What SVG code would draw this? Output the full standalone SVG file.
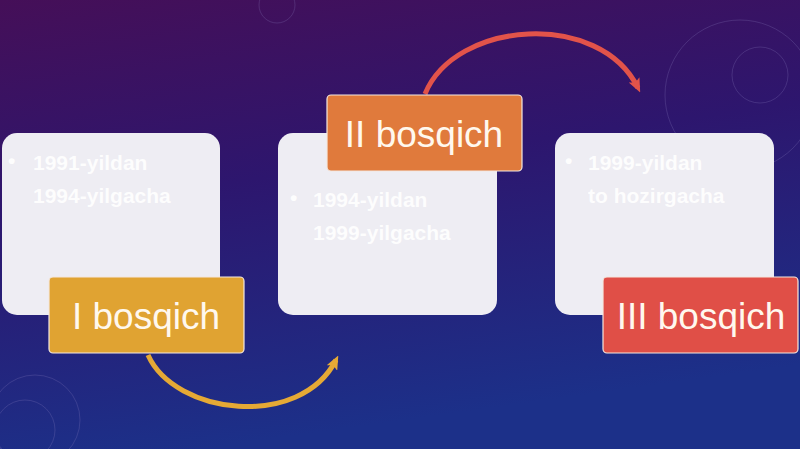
<svg xmlns="http://www.w3.org/2000/svg" width="800" height="449" viewBox="0 0 800 449">
<defs>
<linearGradient id="bg" x1="0" y1="0" x2="0.25" y2="1">
<stop offset="0" stop-color="#450f58"/>
<stop offset="0.45" stop-color="#2d166e"/>
<stop offset="1" stop-color="#1c3089"/>
</linearGradient>
<marker id="ahGold" markerWidth="14" markerHeight="12" refX="9" refY="6" orient="auto" markerUnits="userSpaceOnUse">
<path d="M0,0 L14,6 L0,12 L3,6 z" fill="#e5a935"/>
</marker>
<marker id="ahRed" markerWidth="14" markerHeight="12" refX="9" refY="6" orient="auto" markerUnits="userSpaceOnUse">
<path d="M0,0 L14,6 L0,12 L3,6 z" fill="#e2534a"/>
</marker>
</defs>
<style>
.box{fill:#eeedf3;}
.lbl{stroke:#f4e8e0;stroke-width:1.2;}
.lt{font-family:"Liberation Sans","Open Sans",sans-serif;font-size:37px;fill:#fff8ee;}
.bt{font-family:"Liberation Sans","Open Sans",sans-serif;font-size:21px;fill:#ffffff;font-weight:bold;opacity:0.9;}
.deco{fill:none;stroke:#8a7fc0;stroke-width:1;opacity:0.25;}
</style>
<rect width="800" height="449" fill="url(#bg)"/>
<g id="decor">
<circle class="deco" cx="277" cy="5" r="18"/>
<circle class="deco" cx="760" cy="75" r="28"/>
<circle class="deco" cx="740" cy="95" r="75"/>
<circle class="deco" cx="35" cy="420" r="45"/>
<circle class="deco" cx="25" cy="430" r="30"/>
</g>
<g id="connectors">
<path d="M148,355 C175,415 300,430 336,360" fill="none" stroke="#e5a935" stroke-width="5" marker-end="url(#ahGold)"/>
<path d="M425,94 C455,20 600,10 638,88" fill="none" stroke="#e2534a" stroke-width="5" marker-end="url(#ahRed)"/>
</g>
<g id="node1">
<rect class="box" x="2" y="133" width="218" height="182" rx="15"/>
<text class="bt" x="8" y="168">•</text>
<text class="bt" x="33" y="170">1991-yildan</text>
<text class="bt" x="33" y="203">1994-yilgacha</text>
</g>
<g id="node2">
<rect class="box" x="278" y="133" width="219" height="182" rx="15"/>
<text class="bt" x="290" y="205">•</text>
<text class="bt" x="313" y="207">1994-yildan</text>
<text class="bt" x="313" y="240">1999-yilgacha</text>
</g>
<g id="node3">
<rect class="box" x="555" y="133" width="219" height="182" rx="15"/>
<text class="bt" x="565" y="168">•</text>
<text class="bt" x="588" y="170">1999-yildan</text>
<text class="bt" x="588" y="203">to hozirgacha</text>
</g>
<g id="label1">
<rect class="lbl" x="49" y="277" width="195" height="76" rx="4" fill="#e0a332"/>
<text class="lt" x="146" y="329" text-anchor="middle">I bosqich</text>
</g>
<g id="label2">
<rect class="lbl" x="327" y="95" width="195" height="76" rx="4" fill="#e07a3c"/>
<text class="lt" x="424" y="147" text-anchor="middle">II bosqich</text>
</g>
<g id="label3">
<rect class="lbl" x="603" y="277" width="195" height="76" rx="4" fill="#e04f47"/>
<text class="lt" x="701" y="329" text-anchor="middle">III bosqich</text>
</g>
</svg>
